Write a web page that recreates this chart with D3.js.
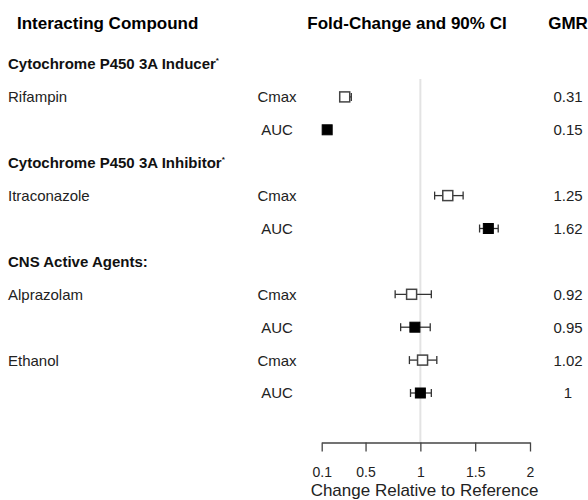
<!DOCTYPE html>
<html>
<head>
<meta charset="utf-8">
<script src="https://cdn.jsdelivr.net/npm/d3@7"></script>
<style>
  html, body { margin: 0; padding: 0; background: #fff; }
  svg { display: block; font-family: Arial, "Liberation Sans", sans-serif; }
</style>
</head>
<body>
<svg id="chart" width="588" height="500"></svg>
<script>
// ---- data ----
const groups = ["Cytochrome P450 3A Inducer", "Cytochrome P450 3A Inhibitor", "CNS Active Agents:"];
const groupStar = [true, true, false];
const compounds = ["Rifampin", "Itraconazole", "Alprazolam", "Ethanol"];
const compoundGroup = [0, 1, 2, 2];
const measures = ["Cmax", "AUC"];
const gmr =    [0.31, 0.15, 1.25, 1.62, 0.92, 0.95, 1.02, 1.00];
const lower =  [0.29, 0.13, 1.13, 1.54, 0.77, 0.82, 0.90, 0.91];
const upper =  [0.37, 0.17, 1.39, 1.71, 1.10, 1.09, 1.15, 1.10];
const gmrLabels = ["0.31", "0.15", "1.25", "1.62", "0.92", "0.95", "1.02", "1"];
const xTicks = [0.1, 0.5, 1, 1.5, 2];
const xTickLabels = ["0.1", "0.5", "1", "1.5", "2"];

// ---- build rows ----
const rows = [];
let k = 0;
compounds.forEach((c, ci) => {
  const g = compoundGroup[ci];
  if (ci === 0 || compoundGroup[ci - 1] !== g) rows.push({type: "group", g});
  measures.forEach((m, mi) => {
    rows.push({type: "data", compound: mi === 0 ? c : "", measure: m, mi, idx: k});
    k++;
  });
});

const svg = d3.select("#chart");
const x = d3.scaleLinear().domain([0.1, 2]).range([321.7, 530]);
const y = d3.scaleLinear().domain([0, rows.length - 1]).range([64, 393]);
const axisY = 442.5;

// headers
const hdr = svg.append("g").attr("font-weight", "bold").attr("font-size", 17).attr("fill", "#000");
hdr.append("text").attr("x", 17).attr("y", 29).text("Interacting Compound");
hdr.append("text").attr("x", 407).attr("y", 29).attr("text-anchor", "middle").text("Fold-Change and 90% CI");
hdr.append("text").attr("x", 568).attr("y", 29).attr("text-anchor", "middle").text("GMR");

// reference line
svg.append("line")
  .attr("x1", x(1)).attr("x2", x(1))
  .attr("y1", 79).attr("y2", axisY)
  .attr("stroke", "#e3e3e3").attr("stroke-width", 2);

// rows
rows.forEach((r, i) => {
  const yy = y(i);
  if (r.type === "group") {
    const t = svg.append("text").attr("x", 8).attr("y", yy + 5.4)
      .attr("font-size", 15).attr("font-weight", "bold").attr("fill", "#111")
      .text(groups[r.g]);
    if (groupStar[r.g]) {
      t.append("tspan").attr("font-size", 8).attr("dy", -6).text("*");
    }
  } else {
    if (r.compound) {
      svg.append("text").attr("x", 8).attr("y", yy + 5.4)
        .attr("font-size", 15).attr("fill", "#222").text(r.compound);
    }
    svg.append("text").attr("x", 277).attr("y", yy + 5.4).attr("text-anchor", "middle")
      .attr("font-size", 15).attr("fill", "#222").text(r.measure);
    svg.append("text").attr("x", 568).attr("y", yy + 5.4).attr("text-anchor", "middle")
      .attr("font-size", 15).attr("fill", "#222").text(gmrLabels[r.idx]);

    // CI whisker
    const g = svg.append("g").attr("stroke", "#333").attr("stroke-width", 1.3);
    g.append("line").attr("x1", x(lower[r.idx])).attr("x2", x(upper[r.idx]))
      .attr("y1", yy).attr("y2", yy);
    g.append("line").attr("x1", x(lower[r.idx])).attr("x2", x(lower[r.idx]))
      .attr("y1", yy - 4).attr("y2", yy + 4);
    g.append("line").attr("x1", x(upper[r.idx])).attr("x2", x(upper[r.idx]))
      .attr("y1", yy - 4).attr("y2", yy + 4);
    // box
    const filled = r.mi === 1;
    const s = 10;
    svg.append("rect")
      .attr("x", x(gmr[r.idx]) - s / 2).attr("y", yy - s / 2)
      .attr("width", s).attr("height", s)
      .attr("fill", filled ? "#000" : "#fff")
      .attr("stroke", filled ? "#000" : "#444")
      .attr("stroke-width", filled ? 1 : 1.5);
  }
});

// axis
const axis = d3.axisBottom(x).tickValues(xTicks)
  .tickFormat((d, i) => xTickLabels[i]).tickSize(9).tickSizeOuter(0);
const ax = svg.append("g").attr("transform", `translate(0,${axisY})`).call(axis);
ax.select(".domain").attr("stroke", "#444").attr("stroke-width", 1.3);
ax.selectAll(".tick line").attr("stroke", "#444").attr("stroke-width", 1.3);
ax.selectAll(".tick text").attr("font-size", 14).attr("fill", "#222")
  .attr("font-family", "Arial, 'Liberation Sans', sans-serif")
  .attr("y", 24.3);

svg.append("text").attr("x", 424.5).attr("y", 495.7).attr("text-anchor", "middle")
  .attr("font-size", 17).attr("fill", "#222").text("Change Relative to Reference");
</script>
</body>
</html>
